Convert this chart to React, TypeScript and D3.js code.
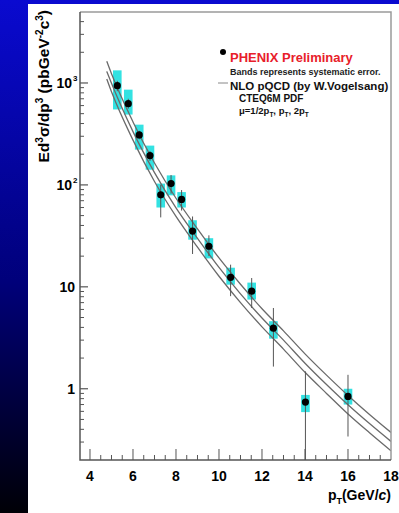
import React, { useEffect, useRef } from "react";
import * as d3 from "d3";

// PHENIX preliminary points
const ptPT = [5.27, 5.78, 6.29, 6.79, 7.29, 7.77, 8.26, 8.77, 9.53, 10.54, 11.52, 12.53, 14.02, 16.0];
const ptVal = [940, 627, 309, 194, 80, 103, 72, 35.2, 25, 12.4, 9.06, 3.93, 0.74, 0.84];
const statHi = [1050, 700, 340, 215, 100, 125, 89, 49, 32, 16.5, 12.2, 6.2, 1.48, 1.37];
const statLo = [830, 560, 280, 172, 48, 82, 56, 21, 20, 8.1, 6.2, 1.65, 0.1, 0.34];
const sysHi = [1330, 860, 390, 243, 103, 124, 85, 45, 30, 15.4, 11, 4.6, 0.87, 1.0];
const sysLo = [550, 490, 222, 141, 60, 79, 60, 29, 19, 10.5, 7.5, 3.1, 0.59, 0.7];

// NLO pQCD curves, mu = 1/2 pT, pT, 2pT
const nloPT = [4.78, 5, 6, 7, 8, 9, 10, 11, 12, 13, 14, 15, 16, 17, 18];
const nloUpper = [1630, 1230, 415, 164, 74, 37, 19.2, 10.6, 6.1, 3.7, 2.2, 1.36, 0.86, 0.56, 0.373];
const nloMid = [1300, 992, 333, 132, 59.5, 29.9, 15.5, 8.53, 4.95, 3.0, 1.78, 1.1, 0.696, 0.455, 0.304];
const nloLower = [1095, 820, 275, 108, 49, 24.5, 12.7, 7.0, 4.05, 2.45, 1.45, 0.9, 0.565, 0.37, 0.246];

const xMajor = [4, 6, 8, 10, 12, 14, 16, 18];
const yMajor = [1, 10, 100, 1000];
const yLabelExp = ["", "", "2", "3"];

const FONT = "'Liberation Sans', Arial, sans-serif";

const App = () => {
  const ref = useRef<SVGSVGElement>(null);

  useEffect(() => {
    const svg = d3.select(ref.current);
    svg.selectAll("*").remove();

    const W = 399;
    const H = 513;
    const left = 80, right = 391, top = 12, bottom = 460;

    // background
    const defs = svg.append("defs");
    const grad = defs.append("linearGradient").attr("id", "bg").attr("x1", 0).attr("y1", 0).attr("x2", 0).attr("y2", 1);
    grad.append("stop").attr("offset", "0%").attr("stop-color", "#0a0ad0");
    grad.append("stop").attr("offset", "55%").attr("stop-color", "#00007a");
    grad.append("stop").attr("offset", "100%").attr("stop-color", "#000006");
    svg.append("rect").attr("width", W).attr("height", H).attr("fill", "url(#bg)");
    svg.append("rect").attr("x", 28).attr("y", 4).attr("width", W - 28).attr("height", H - 4).attr("fill", "#fff");

    const x = d3.scaleLinear().domain([3.535, 18]).range([left, right]);
    const y = d3.scaleLog().domain([0.2, 4970]).range([bottom, top]);

    defs.append("clipPath").attr("id", "plot")
      .append("rect").attr("x", left).attr("y", top).attr("width", right - left).attr("height", bottom - top);

    const g = svg.append("g").attr("clip-path", "url(#plot)");

    // systematic bands
    ptPT.forEach((p, i) => {
      g.append("rect")
        .attr("x", x(p - 0.2))
        .attr("width", x(p + 0.2) - x(p - 0.2))
        .attr("y", y(sysHi[i]))
        .attr("height", y(sysLo[i]) - y(sysHi[i]))
        .attr("fill", "#33e2e2");
    });

    // NLO curves
    const line = d3.line<number>()
      .x((_, i) => x(nloPT[i]))
      .y((d) => y(d))
      .curve(d3.curveMonotoneX);
    [nloUpper, nloMid, nloLower].forEach((c) => {
      g.append("path").attr("d", line(c)).attr("fill", "none").attr("stroke", "#6a6a6a").attr("stroke-width", 1.3);
    });

    // stat errors
    ptPT.forEach((p, i) => {
      g.append("line")
        .attr("x1", x(p)).attr("x2", x(p))
        .attr("y1", y(statHi[i])).attr("y2", y(Math.max(statLo[i], 0.2)))
        .attr("stroke", "#555").attr("stroke-width", 1);
    });

    // points
    ptPT.forEach((p, i) => {
      g.append("circle").attr("cx", x(p)).attr("cy", y(ptVal[i])).attr("r", 3.6).attr("fill", "#000");
    });

    // frame
    svg.append("path")
      .attr("d", `M${left},${top}H${right}V${bottom}`)
      .attr("fill", "none").attr("stroke", "#9a9a9a").attr("stroke-width", 1.5);
    svg.append("path")
      .attr("d", `M${left},${top}V${bottom}H${right}`)
      .attr("fill", "none").attr("stroke", "#555").attr("stroke-width", 1.5);

    // y ticks
    const yMinor: number[] = [];
    [0.1, 1, 10, 100, 1000].forEach((d) => {
      for (let k = 2; k <= 9; k++) {
        const v = d * k;
        if (v > 0.2 && v < 4970) yMinor.push(v);
      }
    });
    yMinor.forEach((v) => {
      svg.append("line").attr("x1", left).attr("x2", left + 4).attr("y1", y(v)).attr("y2", y(v))
        .attr("stroke", "#555").attr("stroke-width", 1);
    });
    yMajor.forEach((v, i) => {
      svg.append("line").attr("x1", left).attr("x2", left + 8).attr("y1", y(v)).attr("y2", y(v))
        .attr("stroke", "#555").attr("stroke-width", 1.2);
      svg.append("text")
        .attr("x", yLabelExp[i] ? 72 : 75)
        .attr("y", y(v) + 5)
        .attr("text-anchor", "end")
        .style("font-family", FONT).style("font-weight", "bold").style("font-size", "14px")
        .text(v === 1 ? "1" : "10");
      if (yLabelExp[i]) {
        svg.append("text").attr("x", 73).attr("y", y(v) - 2)
          .style("font-family", FONT).style("font-weight", "bold").style("font-size", "8px")
          .text(yLabelExp[i]);
      }
    });

    // x ticks
    d3.range(4, 18, 0.5).forEach((v) => {
      const major = xMajor.includes(v);
      svg.append("line").attr("x1", x(v)).attr("x2", x(v))
        .attr("y1", bottom).attr("y2", bottom - (major ? 11 : 5))
        .attr("stroke", "#555").attr("stroke-width", 1);
    });
    xMajor.forEach((v) => {
      svg.append("text").attr("x", x(v)).attr("y", 481).attr("text-anchor", "middle")
        .style("font-family", FONT).style("font-weight", "bold").style("font-size", "14px")
        .text(v);
    });

    // x title
    const xt = svg.append("text").attr("x", 391).attr("y", 500).attr("text-anchor", "end")
      .style("font-family", FONT).style("font-weight", "bold").style("font-size", "14px");
    xt.append("tspan").text("p");
    xt.append("tspan").attr("dy", 4).style("font-size", "9px").text("T");
    xt.append("tspan").attr("dy", -4).text("(GeV/");
    xt.append("tspan").style("font-style", "italic").text("c");
    xt.append("tspan").text(")");

    // y title
    const yt = svg.append("text")
      .attr("transform", "translate(49,10) rotate(-90)")
      .attr("text-anchor", "end")
      .style("font-family", FONT).style("font-weight", "bold").style("font-size", "15.5px");
    yt.append("tspan").text("Ed");
    yt.append("tspan").attr("dy", -6).style("font-size", "10px").text("3");
    yt.append("tspan").attr("dy", 6).text("σ/dp");
    yt.append("tspan").attr("dy", -6).style("font-size", "10px").text("3");
    yt.append("tspan").attr("dy", 6).text(" (pbGeV");
    yt.append("tspan").attr("dy", -6).style("font-size", "10px").text("-2");
    yt.append("tspan").attr("dy", 6).text("c");
    yt.append("tspan").attr("dy", -6).style("font-size", "10px").text("3");
    yt.append("tspan").attr("dy", 6).text(")");

    // legend
    svg.append("circle").attr("cx", 223).attr("cy", 52).attr("r", 3).attr("fill", "#000");
    svg.append("text").attr("x", 230).attr("y", 62)
      .style("font-family", FONT).style("font-weight", "bold").style("font-size", "13px").attr("fill", "#e8202a")
      .text("PHENIX Preliminary");
    svg.append("text").attr("x", 230).attr("y", 75)
      .style("font-family", FONT).style("font-weight", "bold").style("font-size", "9px").attr("fill", "#222")
      .text("Bands represents systematic error.");
    svg.append("line").attr("x1", 218).attr("x2", 228).attr("y1", 83).attr("y2", 83)
      .attr("stroke", "#888").attr("stroke-width", 1);
    svg.append("text").attr("x", 230).attr("y", 90)
      .style("font-family", FONT).style("font-weight", "bold").style("font-size", "11.5px").attr("fill", "#111")
      .text("NLO pQCD (by W.Vogelsang)");
    svg.append("text").attr("x", 239).attr("y", 102)
      .style("font-family", FONT).style("font-weight", "bold").style("font-size", "10px").attr("fill", "#111")
      .text("CTEQ6M PDF");
    const mu = svg.append("text").attr("x", 239).attr("y", 114)
      .style("font-family", FONT).style("font-weight", "bold").style("font-size", "9.5px").attr("fill", "#111");
    mu.append("tspan").text("μ=1/2p");
    mu.append("tspan").attr("dy", 3).style("font-size", "6.5px").text("T");
    mu.append("tspan").attr("dy", -3).text(", p");
    mu.append("tspan").attr("dy", 3).style("font-size", "6.5px").text("T");
    mu.append("tspan").attr("dy", -3).text(", 2p");
    mu.append("tspan").attr("dy", 3).style("font-size", "6.5px").text("T");
  }, []);

  return (
    <svg ref={ref} width={399} height={513} style={{ position: "absolute", left: 0, top: 0 }} />
  );
};

export default App;
